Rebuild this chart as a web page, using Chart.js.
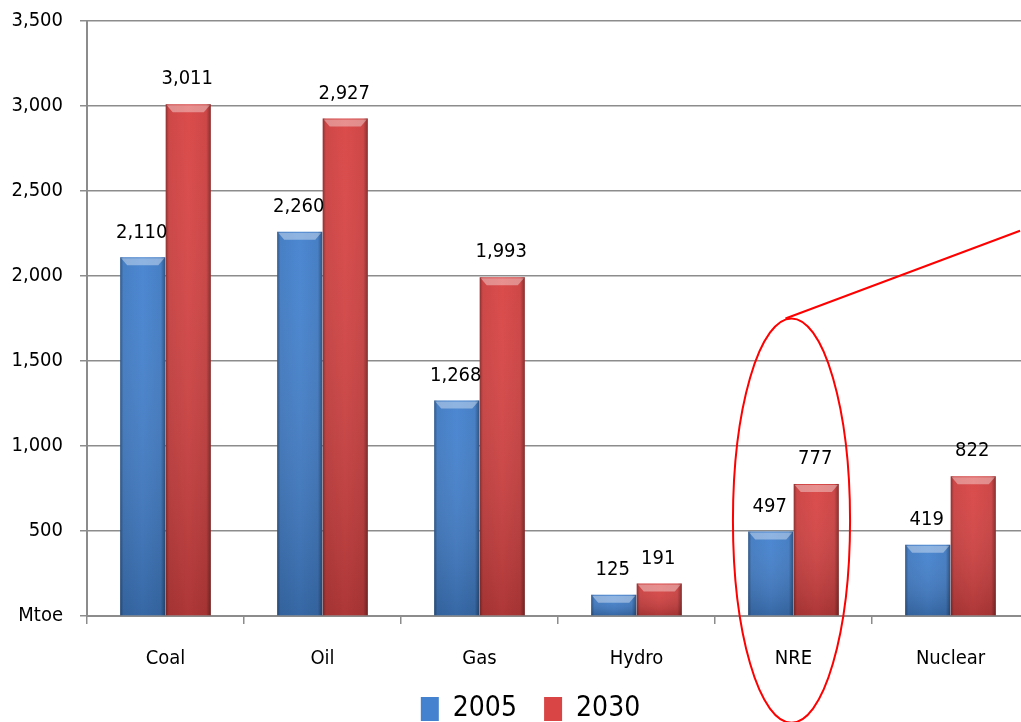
<!DOCTYPE html>
<html>
<head>
<meta charset="utf-8">
<script src="https://cdn.jsdelivr.net/npm/chart.js@4.4.1/dist/chart.umd.min.js"></script>
<style>
html, body { margin: 0; padding: 0; overflow: hidden; background: #fff; }
#wrap { width: 1040px; height: 733px; }
</style>
</head>
<body>
<div id="wrap"><canvas id="grafik"></canvas></div>
<script>
// Data
const kategori = ['Coal', 'Oil', 'Gas', 'Hydro', 'NRE', 'Nuclear'];
const nilai2005 = [2110, 2260, 1268, 125, 497, 419];
const nilai2030 = [3011, 2927, 1993, 191, 777, 822];
const labelTahun = ['2005', '2030'];
const sumbuYMaks = 3500;
const langkahY = 500;
const labelNol = 'Mtoe';

const FONT = '"Liberation Sans Narrow", "DejaVu Sans Condensed", "Open Sans", sans-serif';
const abu = '#8c8c8c';

// Efek 3D pada batang + label nilai
const efekBatang = {
    id: 'efekBatang',
    afterLayout(chart) {
        // geser legenda sedikit ke kanan
        chart.legend.left += 16;
        chart.legend.right += 16;
    },
    afterDatasetsDraw(chart) {
        const ctx = chart.ctx;
        chart.data.datasets.forEach((ds, i) => {
            const meta = chart.getDatasetMeta(i);
            meta.data.forEach((bar, j) => {
                const w = bar.width;
                const x0 = bar.x - w / 2, x1 = bar.x + w / 2;
                const top = bar.y, bot = bar.base;
                ctx.save();
                // gelap ke bawah
                const g = ctx.createLinearGradient(0, top, 0, bot);
                g.addColorStop(0, 'rgba(255,255,255,0.04)');
                g.addColorStop(1, 'rgba(0,0,0,0.2)');
                ctx.fillStyle = g;
                ctx.fillRect(x0, top, w, bot - top);
                // tepi kiri/kanan
                const gs = ctx.createLinearGradient(x0, 0, x1, 0);
                gs.addColorStop(0, 'rgba(0,0,0,0.35)');
                gs.addColorStop(0.07, 'rgba(0,0,0,0.06)');
                gs.addColorStop(0.5, 'rgba(0,0,0,0)');
                gs.addColorStop(0.9, 'rgba(0,0,0,0.06)');
                gs.addColorStop(1, 'rgba(0,0,0,0.38)');
                ctx.fillStyle = gs;
                ctx.fillRect(x0, top, w, bot - top);
                // bevel atas
                const h = Math.min(8, bot - top);
                ctx.beginPath();
                ctx.moveTo(x0 + 1, top + 1);
                ctx.lineTo(x1 - 1, top + 1);
                ctx.lineTo(x1 - 7, top + h);
                ctx.lineTo(x0 + 7, top + h);
                ctx.closePath();
                ctx.fillStyle = 'rgba(255,255,255,0.38)';
                ctx.fill();
                ctx.restore();

                // label nilai
                ctx.save();
                ctx.fillStyle = '#000';
                ctx.font = '20px ' + FONT;
                ctx.textAlign = 'center';
                ctx.textBaseline = 'middle';
                ctx.fillText(ds.data[j].toLocaleString('en-US'), bar.x - 1, top - 25);
                ctx.restore();
            });
        });
    },
    afterDraw(chart) {
        // Lingkaran merah di sekitar NRE
        const ctx = chart.ctx;
        const sx = chart.scales.x, sy = chart.scales.y;
        const lebar = sx.getPixelForValue(1) - sx.getPixelForValue(0);
        const cx = sx.getPixelForValue(4) - 2;
        const atas = sy.getPixelForValue(1750);
        const cy = sy.getPixelForValue(561);
        ctx.save();
        ctx.strokeStyle = '#ff0000';
        ctx.lineWidth = 2;
        ctx.beginPath();
        ctx.ellipse(cx, cy, lebar * 0.373, cy - atas, 0, 0, Math.PI * 2);
        ctx.stroke();
        ctx.beginPath();
        ctx.moveTo(cx - 6, atas);
        ctx.lineTo(sx.getPixelForValue(5) + lebar * 0.443, sy.getPixelForValue(2266));
        ctx.stroke();
        ctx.restore();
    }
};

const ctx = document.getElementById('grafik').getContext('2d');
window.chart = new Chart(ctx, {
    type: 'bar',
    data: {
        labels: kategori,
        datasets: [{
            label: labelTahun[0],
            data: nilai2005,
            backgroundColor: '#4482cf',
            borderWidth: 0
        }, {
            label: labelTahun[1],
            data: nilai2030,
            backgroundColor: '#d94444',
            borderWidth: 0
        }]
    },
    options: {
        responsive: true,
        maintainAspectRatio: false,
        animation: false,
        layout: { padding: { top: 21, right: 11, left: 0, bottom: 0 } },
        datasets: {
            bar: { barPercentage: 0.99, categoryPercentage: 0.58 }
        },
        scales: {
            x: {
                grid: { drawOnChartArea: false, color: abu, lineWidth: 1.5, tickLength: 8 },
                border: { color: abu, width: 2 },
                ticks: { color: '#000', font: { family: FONT, size: 20 }, padding: 23 },
                afterFit: s => { s.height = 77; }
            },
            y: {
                min: 0,
                max: sumbuYMaks,
                grid: { color: abu, lineWidth: 1.5, tickLength: 7 },
                border: { color: abu, width: 2 },
                ticks: {
                    stepSize: langkahY,
                    color: '#000',
                    font: { family: FONT, size: 20 },
                    padding: 17,
                    callback: v => v === 0 ? labelNol : v.toLocaleString('en-US')
                },
                afterFit: s => { s.width = 87; s.paddingTop = 0; s.paddingBottom = 0; }
            }
        },
        plugins: {
            legend: {
                position: 'bottom',
                labels: {
                    color: '#000',
                    font: { family: FONT, size: 28 },
                    boxWidth: 18,
                    boxHeight: 24,
                    padding: 2,
                    generateLabels: chart => {
                        const items = Chart.defaults.plugins.legend.labels.generateLabels(chart);
                        items[0].text = items[0].text + '\u2002\u2002';
                        return items;
                    }
                }
            },
            tooltip: { enabled: false }
        }
    },
    plugins: [efekBatang]
});
</script>
</body>
</html>
